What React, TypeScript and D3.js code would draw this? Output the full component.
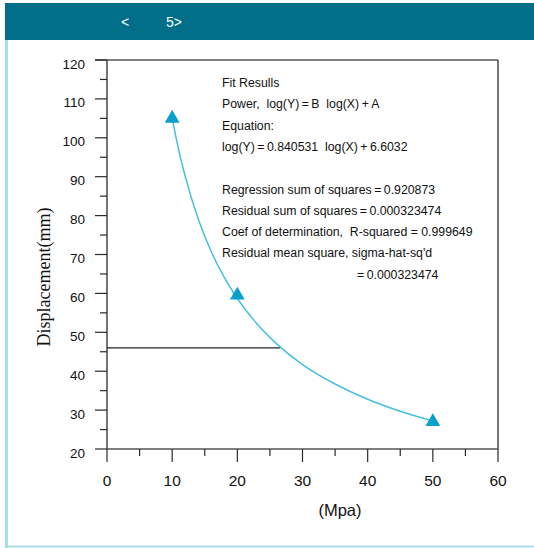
import * as d3 from "d3";

const X_TICKS = [0, 10, 20, 30, 40, 50, 60];
const X_MINOR = [5, 15, 25, 35, 45, 55];
const Y_TICKS = [20, 30, 40, 50, 60, 70, 80, 90, 100, 110, 120];
const Y_MINOR = [25, 35, 45, 55, 65, 75, 85, 95, 105, 115];

// measured points (Mpa, mm)
const POINTS_X = [10, 20, 50];
const POINTS_Y = [105, 59.5, 27];

// fitted power curve
const CURVE_X = [10, 11, 12, 14, 16, 18, 20, 23, 26, 30, 35, 40, 45, 50];
const CURVE_Y = [105, 96.9, 90.1, 79.1, 70.7, 64.1, 58.7, 52.2, 47.1, 41.7, 36.7, 32.8, 29.7, 27.2];

// horizontal guide at displacement 46 up to the curve
const GUIDE_Y = 46;
const GUIDE_X_END = 26.6;

const FIT_LINES = [
  "Fit Resulls",
  "Power,  log(Y)\u2009=\u2009B  log(X)\u2009+\u2009A",
  "Equation:",
  "log(Y)\u2009=\u20090.840531  log(X)\u2009+\u20096.6032",
  "",
  "Regression sum of squares\u2009=\u20090.920873",
  "Residual sum of squares\u2009=\u20090.000323474",
  "Coef of determination,  R-squared = 0.999649",
  "Residual mean square, sigma-hat-sq'd",
];
const FIT_TAIL = "=\u20090.000323474";

const W = 534;
const H = 548;

export default function App() {
  const x = d3.scaleLinear().domain([0, 60]).range([107, 498]);
  const y = d3.scaleLinear().domain([20, 120]).range([449, 60]);

  const curve = d3
    .line<number>()
    .x((_, i) => x(CURVE_X[i]))
    .y((d) => y(d))
    .curve(d3.curveMonotoneX)(CURVE_Y) ?? "";

  const tri = d3.symbol().type(d3.symbolTriangle).size(95)() ?? "";
  const sans = "'Liberation Sans', Arial, sans-serif";
  const axisColor = "#2a2a2a";

  return (
    <div style={{ position: "fixed", left: 0, top: 0, width: W, height: H, background: "#fff" }}>
      <svg width={W} height={H} style={{ display: "block" }}>
        {/* header band */}
        <rect x={5} y={3} width={W - 5} height={37} fill="#016f89" />
        <text x={121} y={27} fill="#fff" fontFamily={sans} fontSize={14}>
          {"<"}
        </text>
        <text x={166} y={27} fill="#fff" fontFamily={sans} fontSize={14}>
          {"5>"}
        </text>
        <line x1={6.5} x2={6.5} y1={40} y2={H} stroke="#a9dfeb" strokeWidth={3} />
        <line x1={5} x2={W} y1={546.5} y2={546.5} stroke="#a9dfeb" strokeWidth={2} />

        {/* frame */}
        <line x1={95} x2={x(60)} y1={y(120)} y2={y(120)} stroke="#555" strokeWidth={1.3} />
        <line x1={x(60)} x2={x(60)} y1={y(120)} y2={y(20)} stroke={axisColor} strokeWidth={1.3} />
        <line x1={x(0)} x2={x(0)} y1={y(120)} y2={y(20)} stroke={axisColor} strokeWidth={1.3} />
        <line x1={x(0)} x2={x(60)} y1={y(20)} y2={y(20)} stroke="#555" strokeWidth={1.3} />

        {/* y ticks */}
        {Y_TICKS.map((t) => (
          <g key={`y${t}`}>
            <line x1={x(0) - 12} x2={x(0)} y1={y(t)} y2={y(t)} stroke={axisColor} strokeWidth={1.2} />
            <text x={85} y={y(t) + 8.5} textAnchor="end" fontFamily={sans} fontSize={13.5} fill="#111">
              {t}
            </text>
          </g>
        ))}
        {Y_MINOR.map((t) => (
          <line key={`ym${t}`} x1={x(0) - 7} x2={x(0)} y1={y(t)} y2={y(t)} stroke={axisColor} strokeWidth={1.2} />
        ))}

        {/* x ticks */}
        {X_TICKS.map((t) => (
          <g key={`x${t}`}>
            <line x1={x(t)} x2={x(t)} y1={y(20)} y2={y(20) + 13} stroke={axisColor} strokeWidth={1.2} />
            <text x={x(t)} y={486} textAnchor="middle" fontFamily={sans} fontSize={15.5} fill="#111">
              {t}
            </text>
          </g>
        ))}
        {X_MINOR.map((t) => (
          <line key={`xm${t}`} x1={x(t)} x2={x(t)} y1={y(20)} y2={y(20) + 7} stroke={axisColor} strokeWidth={1.2} />
        ))}

        {/* axis titles */}
        <text x={340} y={516} textAnchor="middle" fontFamily={sans} fontSize={16.5} fill="#111">
          (Mpa)
        </text>
        <text
          transform={`translate(50, 277) rotate(-90)`}
          textAnchor="middle"
          fontFamily="'Liberation Serif', 'Times New Roman', serif"
          fontSize={18}
          fill="#111"
        >
          Displacement(mm)
        </text>

        {/* guide line */}
        <line
          x1={x(0)}
          x2={x(GUIDE_X_END)}
          y1={y(GUIDE_Y)}
          y2={y(GUIDE_Y)}
          stroke="#222"
          strokeWidth={1.2}
        />

        {/* fit curve */}
        <path d={curve} fill="none" stroke="#45c0e0" strokeWidth={1.5} />

        {/* points */}
        {POINTS_X.map((px, i) => (
          <path key={`p${i}`} d={tri} transform={`translate(${x(px)},${y(POINTS_Y[i])})`} fill="#0a9fcb" />
        ))}

        {/* fit results */}
        {FIT_LINES.map((line, i) => (
          <text
            key={`f${i}`}
            x={222}
            y={87 + i * 21.3}
            fontFamily={sans}
            fontSize={12.3}
            fill="#111"
            style={{ whiteSpace: "pre" }}
          >
            {line}
          </text>
        ))}
        <text x={357} y={87 + 9 * 21.3} fontFamily={sans} fontSize={12.3} fill="#111">
          {FIT_TAIL}
        </text>
      </svg>
    </div>
  );
}
